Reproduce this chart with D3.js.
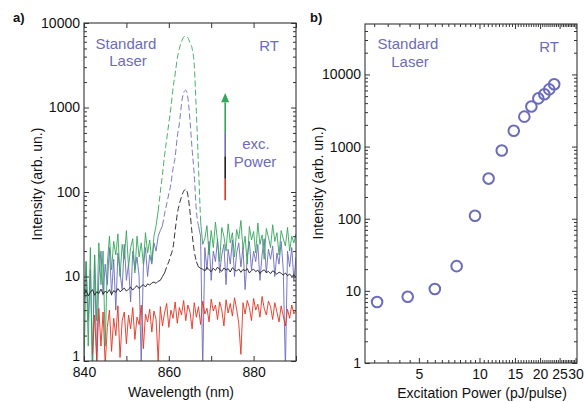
<!DOCTYPE html>
<html>
<head>
<meta charset="utf-8">
<script src="https://cdn.jsdelivr.net/npm/d3@7"></script>
<style>
  body { margin: 0; background: #fff; }
  text { font-family: "Liberation Sans", Arial, sans-serif; }
</style>
</head>
<body>
<script>
// ---- panel a: spectra, sampled every 0.5 nm from 840 to 890 nm ----
const waveStart = 840;
const waveStep = 0.5;

const greenSpectrum = [
  0.8, 15, 1.5, 22, 0.7, 18, 3, 25, 8, 20,          // 840
  1.5, 14, 30, 12, 26, 18, 32, 10, 24, 16,          // 845
  35, 13, 22, 28, 11, 30, 17, 25, 14, 33,           // 850
  19, 27, 15, 30, 40, 60, 100, 160, 270, 420,       // 855
  650, 1000, 1700, 2500, 3800, 5000, 6000, 6800, 7000, 6700, // 860
  5800, 5000, 3200, 900, 200, 45, 24, 28, 40, 18,   // 865
  35, 22, 44, 26, 15, 38, 30, 20, 42, 25,           // 870
  33, 17, 36, 28, 46, 21, 30, 14, 39, 27,           // 875
  34, 19, 43, 24, 31, 16, 37, 29, 22, 41,           // 880
  26, 33, 18, 35, 28, 23, 38, 20, 30, 25,           // 885
  32
];

const blueSpectrum = [
  5, 15, 3, 12, 0.8, 18, 0.9, 10, 20, 6,
  14, 8, 22, 6, 16, 4, 19, 11, 7, 24,
  9, 14, 5, 20, 12, 17, 10, 0.9, 13, 22,
  10, 18, 14, 25, 20, 30, 35, 40, 55, 72,
  95, 125, 190, 260, 450, 650, 1100, 1500, 1600, 1300,
  700, 320, 160, 60, 40, 30, 0.8, 22, 12, 26,
  9, 20, 15, 28, 11, 18, 24, 8, 21, 14,
  27, 10, 19, 25, 13, 22, 7, 17, 26, 12,
  20, 15, 24, 9, 18, 28, 11, 21, 16, 23,
  10, 19, 14, 26, 12, 0.8, 20, 13, 22, 9,
  17
];

const blackSpectrum = [
  6.2, 6.8, 5.9, 6.5, 7.0, 6.0, 6.6, 6.3, 7.1, 6.2,
  6.7, 6.4, 7.0, 6.1, 6.8, 6.5, 7.2, 6.6, 6.9, 7.3,
  6.7, 7.1, 7.5, 6.9, 7.4, 7.8, 7.2, 7.7, 8.0, 7.5,
  8.2, 7.9, 8.4, 8.6, 8.3, 8.8, 9.0, 10, 11, 13,
  15, 18, 22, 35, 55, 72, 88, 102, 108, 92,
  58, 32, 20, 15, 13, 12.5, 12.2, 11.6, 12.8, 12.0,
  11.4, 12.5, 11.8, 12.9, 12.1, 11.5, 12.6, 11.9, 12.4, 11.3,
  12.7, 12.0, 11.6, 12.3, 11.2, 12.1, 11.7, 12.4, 11.0, 11.8,
  12.2, 11.4, 11.9, 10.9, 11.6, 12.0, 11.1, 11.5, 10.8, 11.7,
  11.2, 10.6, 11.3, 10.9, 10.4, 11.0, 10.2, 10.7, 10.0, 10.5,
  9.8
];

const redSpectrum = [
  null, null, null, null, 1.2, 3.5, 1.0, 4.2, 1.5, 3.8,
  0.9, 2.5, 4.0, 1.3, 3.2, 2.0, 4.5, 1.1, 3.0, 3.8,
  1.6, 3.5, 2.4, 4.3, 1.8, 3.3, 2.7, 4.6, 1.4, 3.6,
  2.9, 4.1, 2.2, 3.9, 3.1, 1.0, 4.4, 2.6, 3.7, 4.8,
  2.5, 4.0, 3.2, 5.0, 2.8, 4.3, 3.5, 5.2, 3.0, 4.6,
  3.8, 2.4, 4.9, 3.3, 4.4, 2.7, 5.1, 3.6, 4.2, 2.9,
  5.4, 3.9, 4.6, 3.1, 5.0, 4.0, 2.6, 5.3, 3.7, 4.8,
  3.4, 5.6, 4.1, 2.8, 1.2, 4.9, 3.6, 5.2, 4.3, 3.0,
  5.5, 4.0, 4.7, 3.3, 5.8, 4.2, 3.5, 5.1, 4.4, 3.1,
  4.9, 3.8, 2.9, 4.5, 3.4, 2.6, 4.1, 3.2, 4.6, 3.6,
  4.0
];

// ---- panel b: integrated intensity vs excitation power ----
const excPower = [3.1, 4.4, 6.0, 7.7, 9.5, 11.1, 12.9, 14.8, 16.7, 18.1, 19.6, 21.0, 22.2, 23.5];
const intensity = [7, 8.3, 10.6, 22, 110, 360, 880, 1660, 2600, 3600, 4650, 5300, 6200, 7300];

const waveTicks = [840, 850, 860, 870, 880, 890];
const waveLabels = [840, 860, 880];
const powerTicks = [5, 10, 15, 20, 25, 30];
const decades = [1, 10, 100, 1000, 10000];

const green = "#34a65c";
const blue = "#6b6bbb";
const black = "#1e1e1e";
const red = "#e5321f";
const textBlue = "#6c6cb8";

const width = 585;
const height = 402;

const svg = d3.select("body").append("svg")
  .attr("width", width)
  .attr("height", height);

const xA = d3.scaleLinear().domain([840, 890]).range([84, 296]);
const yA = d3.scaleLog().domain([1, 10000]).range([361, 23]);
const xB = d3.scaleLog().domain([2.7, 30.5]).range([365, 577]);
const yB = d3.scaleLog().domain([1, 50000]).range([363, 24]);

function logMinor(scale) {
  const [lo, hi] = scale.domain();
  const out = [];
  decades.concat([100000]).forEach(d => {
    for (let k = 2; k <= 9; k++) {
      const v = d * k;
      if (v > lo && v < hi) out.push(v);
    }
  });
  return out;
}

function drawFrame(x, y, xMajor, xMinor, xFormat, raiseOne) {
  const [x0, x1] = x.range();
  const [y0, y1] = y.range();
  const g = svg.append("g");

  const add = (axis, tx, ty) => {
    const a = g.append("g").attr("transform", `translate(${tx},${ty})`).call(axis);
    a.select(".domain").remove();
    a.selectAll("line").attr("stroke", "#333");
    a.selectAll("text").attr("font-size", 14).attr("fill", "#111")
      .style("font-family", '"Liberation Sans", Arial, sans-serif');
    return a;
  };

  add(d3.axisBottom(x).tickValues(xMajor).tickSize(-5).tickPadding(6).tickFormat(xFormat), 0, y0);
  add(d3.axisTop(x).tickValues(xMajor).tickSize(-5).tickFormat(""), 0, y1);
  if (xMinor.length) {
    add(d3.axisBottom(x).tickValues(xMinor).tickSize(-3).tickFormat(""), 0, y0);
    add(d3.axisTop(x).tickValues(xMinor).tickSize(-3).tickFormat(""), 0, y1);
  }
  const yMajor = decades.filter(d => d >= y.domain()[0] && d <= y.domain()[1]);
  const left = add(d3.axisLeft(y).tickValues(yMajor).tickSize(-5).tickPadding(4).tickFormat(d3.format("d")), x0, 0);
  if (raiseOne) {
    // the "1" sits a little higher so it clears the first x label
    left.selectAll(".tick").filter(d => d === 1).select("text").attr("dy", "-0.05em");
  }
  add(d3.axisRight(y).tickValues(yMajor).tickSize(-5).tickFormat(""), x1, 0);
  add(d3.axisLeft(y).tickValues(logMinor(y)).tickSize(-3).tickFormat(""), x0, 0);
  add(d3.axisRight(y).tickValues(logMinor(y)).tickSize(-3).tickFormat(""), x1, 0);

  g.append("rect")
    .attr("x", x0).attr("y", y1)
    .attr("width", x1 - x0).attr("height", y0 - y1)
    .attr("fill", "none").attr("stroke", "#333").attr("stroke-width", 1.1);
}

// ---------- panel a ----------
svg.append("clipPath").attr("id", "clipA").append("rect")
  .attr("x", 84).attr("y", 23).attr("width", 212).attr("height", 338);

const spectra = [
  { values: blueSpectrum, color: blue, peak: [858.5, 867] },
  { values: greenSpectrum, color: green, peak: [857.5, 867.5] },
  { values: blackSpectrum, color: black, peak: [859, 866.5] },
  { values: redSpectrum, color: red, peak: [900, 900] }
];

const plotA = svg.append("g").attr("clip-path", "url(#clipA)");
const wl = i => waveStart + i * waveStep;

spectra.forEach(s => {
  const [p0, p1] = s.peak;
  const solid = d3.line()
    .x((d, i) => xA(wl(i)))
    .y(d => yA(Math.max(d, 0.5)))
    .defined((d, i) => d != null && (wl(i) <= p0 || wl(i) >= p1));
  plotA.append("path")
    .attr("d", solid(s.values))
    .attr("fill", "none")
    .attr("stroke", s.color)
    .attr("stroke-width", 1)
    .attr("stroke-opacity", 0.9)
    .attr("stroke-linejoin", "round");
  const dashed = d3.line()
    .x((d, i) => xA(wl(i)))
    .y(d => yA(d))
    .curve(d3.curveMonotoneX)
    .defined((d, i) => d != null && wl(i) >= p0 && wl(i) <= p1);
  plotA.append("path")
    .attr("d", dashed(s.values))
    .attr("fill", "none")
    .attr("stroke", s.color)
    .attr("stroke-width", 0.9)
    .attr("stroke-dasharray", "6,3");
});

// excitation arrow
const arrowX = 873.3;
const arrowLevels = [80, 143, 265, 500, 1150];
const arrowTip = 1480;
const arrowColors = [red, black, blue, green];
arrowColors.forEach((c, i) => {
  svg.append("line")
    .attr("x1", xA(arrowX)).attr("x2", xA(arrowX))
    .attr("y1", yA(arrowLevels[i])).attr("y2", yA(arrowLevels[i + 1]))
    .attr("stroke", c).attr("stroke-width", 1.6);
});
svg.append("path")
  .attr("d", `M${xA(arrowX)},${yA(arrowTip)} L${xA(arrowX) - 4},${yA(arrowLevels[4])} L${xA(arrowX) + 4},${yA(arrowLevels[4])} Z`)
  .attr("fill", green);

drawFrame(xA, yA, waveTicks, [], d => waveLabels.includes(d) ? d : "", true);

// ---------- panel b ----------
const powerMinor = d3.range(3, 30, 0.5).filter(v => !powerTicks.includes(v));
drawFrame(xB, yB, powerTicks, powerMinor, d3.format("d"), false);

svg.append("g").selectAll("circle")
  .data(excPower)
  .join("circle")
  .attr("cx", d => xB(d))
  .attr("cy", (d, i) => yB(intensity[i]))
  .attr("r", 5.3)
  .attr("fill", "none")
  .attr("stroke", blue)
  .attr("stroke-width", 2);

// ---------- texts ----------
function label(x, y, str, opts = {}) {
  return svg.append("text")
    .attr("x", x).attr("y", y)
    .attr("text-anchor", opts.anchor || "middle")
    .attr("font-size", opts.size || 14)
    .attr("font-weight", opts.weight || "normal")
    .attr("fill", opts.color || "#111")
    .text(str);
}

label(13, 22, "a)", { anchor: "start", size: 13, weight: "bold" });
label(310, 22, "b)", { anchor: "start", size: 13, weight: "bold" });

label(126, 49, "Standard", { size: 15, color: textBlue });
label(128, 66, "Laser", { size: 15, color: textBlue });
label(269, 51, "RT", { size: 15, color: textBlue });
label(256, 149, "exc.", { size: 15, color: textBlue });
label(255, 167, "Power", { size: 15, color: textBlue });

label(408, 49, "Standard", { size: 15, color: textBlue });
label(410, 67, "Laser", { size: 15, color: textBlue });
label(549, 52, "RT", { size: 15, color: textBlue });

label(181, 397, "Wavelength (nm)");
label(482, 398, "Excitation Power (pJ/pulse)");

[[37, 184], [318, 183]].forEach(([tx, ty]) => {
  svg.append("text")
    .attr("transform", `translate(${tx},${ty}) rotate(-90)`)
    .attr("text-anchor", "middle")
    .attr("dy", "0.35em")
    .attr("font-size", 14)
    .attr("fill", "#111")
    .text("Intensity (arb. un.)");
});
</script>
</body>
</html>
